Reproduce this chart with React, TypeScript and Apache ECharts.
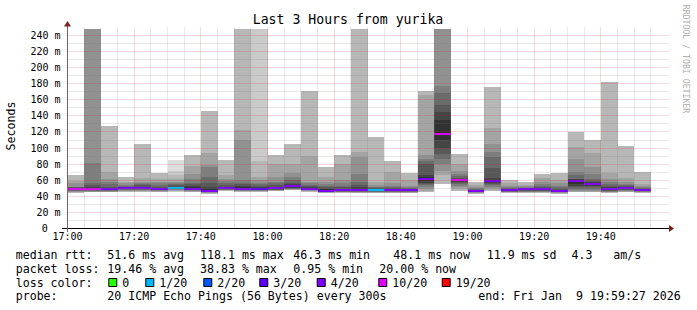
import React, { useEffect, useRef } from "react";
import * as echarts from "echarts";

// 5-minute intervals (start times)
const times = [
  "17:00", "17:05", "17:10", "17:15", "17:20", "17:25", "17:30", "17:35", "17:40", "17:45",
  "17:50", "17:55", "18:00", "18:05", "18:10", "18:15", "18:20", "18:25", "18:30", "18:35",
  "18:40", "18:45", "18:50", "18:55", "19:00", "19:05", "19:10", "19:15", "19:20", "19:25",
  "19:30", "19:35", "19:40", "19:45", "19:50",
];

// median rtt (ms) per interval
const medians = [
  48.5, 48.5, 48.5, 50, 50, 48.7, 50.5, 49.5, 47, 50,
  49.5, 49, 50, 52.6, 49.5, 47, 47.3, 47.5, 48, 47.7,
  47.5, 61.4, 118, 60.5, 46.8, 58.5, 47.5, 48.5, 48.5, 46.5,
  58.8, 55.6, 49.5, 50.3, 48.3,
];

// lost pings (of 20) per interval
const losses = [
  10, 10, 4, 4, 4, 4, 1, 4, 4, 4,
  4, 3, 4, 4, 4, 4, 4, 4, 1, 4,
  4, 4, 10, 10, 4, 4, 4, 4, 4, 4,
  4, 4, 4, 4, 4,
];

// sorted ping rtts (ms) per interval, lost pings as null
const n = null;
const pings: (number | null)[][] = [
  [n, n, 44.5, 45.5, 46, 46.5, 47, 47.5, 48, 48.3, 49, 50, 51, 51.5, 52, 56, 59, 66, n, n],
  [n, n, n, n, 46, 46.5, 47, 47.5, 48, 48.3, 49.5, 51, 54, 56, 81, 260, n, n, n, n],
  [n, n, 45, 45.5, 46, 46.5, 47, 47.3, 47.6, 48, 49, 50, 52, 55, 58, 62, 70, 127, n, n],
  [n, n, 46, 46.5, 47, 47.5, 48, 48.5, 49, 49.5, 50.5, 51, 52, 53, 54, 56, 58, 63.5, n, n],
  [n, n, 46, 46.5, 47, 47.5, 48, 48.5, 49, 49.5, 51, 52, 54, 55.5, 56.5, 58, 63, 104.5, n, n],
  [n, n, 45.5, 46, 46.5, 47, 47.3, 47.6, 48, 48.3, 49.5, 50.5, 52, 54, 56, 58, 62, 69, n, n],
  [45.5, 46, 46.5, 47, 47.5, 48, 48.5, 49, 49.5, 50, 51, 52, 53.5, 55, 56, 58, 62, 67, 72, 85],
  [n, n, 45.5, 46, 46.5, 47, 47.5, 48, 48.5, 49, 51, 52.5, 55, 57, 62, 68, 78, 91, n, n],
  [n, n, 43.5, 44, 44.5, 45, 45.5, 46, 46.3, 46.6, 49, 52, 56, 64, 76, 79, 93.5, 146.5, n, n],
  [n, n, 47, 47.3, 47.6, 48, 48.3, 48.6, 49, 49.5, 51, 52, 54, 56, 59, 62, 67, 85, n, n],
  [n, n, 46, 46.3, 46.6, 47, 47.3, 47.6, 48, 48.5, 51, 52.5, 55, 57, 60, 109.5, 122, 260, n, n],
  [n, 45.5, 46, 46.3, 46.6, 47, 47.3, 47.6, 48, 48.5, 50, 51.5, 53, 55, 57, 60, 64, 84, 260, n],
  [n, n, 46.5, 47, 47.3, 47.6, 48, 48.3, 48.6, 49, 51, 52, 54, 56, 58, 64, 80, 92, n, n],
  [n, n, 47.5, 48, 48.5, 49, 49.5, 50, 50.5, 51, 54, 55, 57, 60, 64, 69, 80, 105.3, n, n],
  [n, n, 46, 46.5, 47, 47.3, 47.6, 48, 48.3, 48.7, 50.5, 51.5, 53, 54.5, 56, 58, 90, 171.6, n, n],
  [n, n, 44, 44.5, 45, 45.3, 45.6, 46, 46.3, 46.6, 48.5, 49.5, 51, 53, 55, 58, 63.5, 76.3, n, n],
  [n, n, 44.5, 45, 45.3, 45.6, 46, 46.3, 46.6, 47, 48.5, 49.5, 51, 53, 56, 60, 80.5, 92, n, n],
  [n, n, 44, 44.5, 45, 45.5, 46, 46.3, 46.6, 47, 49, 51, 54, 57.6, 68, 88.6, 95, 260, n, n],
  [n, n, 44, 44.5, 45, 45.5, 46, 46.5, 47, 47.5, 48.7, 49.3, 50, 51, 52, 54, 57.6, 113.6, n, n],
  [n, n, 44, 44.5, 45, 45.5, 46, 46.3, 46.6, 47, 48.3, 49, 50, 51.4, 53, 56, 70, 83.5, n, n],
  [n, n, 44, 44.5, 45, 45.4, 45.8, 46.2, 46.6, 47, 48.2, 48.8, 49.5, 50.3, 51.4, 53, 60, 69, n, n],
  [n, n, 45, 47, 49.3, 52, 54, 55.6, 57, 59, 64, 66, 80, 84, 86, 91, 165.4, 171.6, n, n],
  [n, n, 55.6, 66, 72, 80, 86, 93, 100, 110, 135, 145, 153, 168, 177, 260, 260, 260, n, n],
  [n, n, 47, 49, 51.4, 53, 55, 56.5, 58, 59.5, 61.5, 62, 63, 65, 68, 72, 80.4, 92.9, n, n],
  [n, n, 43.5, 44, 44.4, 44.8, 45.2, 45.6, 46, 46.4, 47.3, 47.8, 48.3, 49, 50, 51.4, 54, 57.6, n, n],
  [n, n, 46.5, 48, 50, 52, 53.5, 55, 56.5, 57.5, 60, 63, 75, 89, 95, 105, 125, 176, n, n],
  [n, n, 44.5, 45, 45.3, 45.6, 46, 46.3, 46.7, 47, 48, 48.5, 49, 49.8, 51, 53, 57, 60.5, n, n],
  [n, n, 44.5, 45, 45.5, 46, 46.5, 47, 47.5, 48, 49, 49.5, 50, 50.5, 51.5, 52.5, 54.5, 57.6, n, n],
  [n, n, 44.5, 45, 45.5, 46, 46.5, 47, 47.5, 48, 49.2, 50, 51.5, 53, 55, 58, 63, 67.2, n, n],
  [n, n, 43.5, 44, 44.4, 44.8, 45.2, 45.6, 46, 46.2, 47.2, 48, 49.5, 51, 53, 56, 60, 68.8, n, n],
  [n, n, 45, 46, 47, 48, 49.3, 51, 53, 55, 60, 61, 62, 66, 70, 86, 101, 120.6, n, n],
  [n, n, 45, 46, 47, 48, 49, 51, 52.5, 54, 57, 57.5, 59, 62, 68, 76.3, 93.7, 109.5, n, n],
  [n, n, 44.5, 45, 45.5, 46, 46.5, 47, 48, 48.8, 50.5, 51.5, 53, 55.6, 57.6, 62, 69.3, 181.6, n, n],
  [n, n, 45.5, 46, 46.5, 47, 47.5, 48, 48.8, 49.5, 51, 51.5, 52.5, 54, 55.6, 58, 62.5, 103.2, n, n],
  [n, n, 44.5, 45, 45.5, 46, 46.5, 47, 47.5, 48, 48.7, 49, 49.5, 50, 51, 52.5, 54.8, 69.7, n, n],
];

// loss colour legend
const lossThresholds = [0, 1, 2, 3, 4, 10, 19];
const lossLabels = ["0", "1/20", "2/20", "3/20", "4/20", "10/20", "19/20"];
const lossColors = ["#26ff00", "#00b8ff", "#0059ff", "#5e00ff", "#7e00ff", "#dd00ff", "#ff0000"];

// axis ticks
const xTickLabels = ["17:00", "17:20", "17:40", "18:00", "18:20", "18:40", "19:00", "19:20", "19:40"];
const xMajorGrid = [20, 40, 60, 80, 100, 120, 140, 160];
const xMinorGrid = [5, 10, 15, 25, 30, 35, 45, 50, 55, 65, 70, 75, 85, 90, 95, 105, 110, 115, 125, 130, 135, 145, 150, 155, 165, 170, 175];
const yMajorGrid = [20, 40, 60, 80, 100, 120, 140, 160, 180, 200, 220, 240];
const yMinorGrid = [10, 30, 50, 70, 90, 110, 130, 150, 170, 190, 210, 230];

// legend texts
const legendRows = [
  ["median rtt:", "51.6 ms avg", "118.1 ms max", "46.3 ms min", "48.1 ms now", "11.9 ms sd", "4.3", "am/s"],
  ["packet loss:", "19.46 % avg", "38.83 % max", "0.95 % min", "20.00 % now"],
  ["loss color:"],
  ["probe:", "20 ICMP Echo Pings (56 Bytes) every 300s", "end: Fri Jan\u00a0\u00a09 19:59:27 2026"],
];

const Y_MAX = 248.7;
const X_MAX = 180;
const BIN = 5;
const MONO = "DejaVu Sans Mono";

function toMinutes(t: string) {
  const [h, m] = t.split(":").map(Number);
  return (h - 17) * 60 + m;
}

function colorForLoss(l: number) {
  let c = lossColors[0];
  lossThresholds.forEach((th, i) => {
    if (l >= th) c = lossColors[i];
  });
  return c;
}

export default function App() {
  const ref = useRef<HTMLDivElement>(null);
  useEffect(() => {
    if (!ref.current) return;
    const chart = echarts.init(ref.current, null, { renderer: "svg" });
    const starts = times.map(toMinutes);

    const smokeRender = (params: any, api: any) => {
      const i = api.value(0);
      const t0 = starts[i];
      const x0 = Math.round(api.coord([t0, 0])[0]);
      const x1 = Math.round(api.coord([t0 + BIN, 0])[0]);
      const p = pings[i];
      const children: any[] = [];
      for (let k = 1; k <= 10; k++) {
        const lo = p[k - 1];
        const hi = p[20 - k];
        if (lo == null || hi == null) continue;
        const yLo = Math.round(api.coord([t0, Math.min(lo, Y_MAX)])[1]);
        const yHi = Math.round(api.coord([t0, Math.min(hi, Y_MAX)])[1]);
        const g = Math.floor((190 / 10) * (10 - k)) + 50;
        children.push({
          type: "rect",
          shape: { x: x0, y: yHi, width: x1 - x0, height: Math.max(yLo - yHi, 0) },
          style: { fill: `rgb(${g},${g},${g})` },
        });
      }
      const ym = Math.round(api.coord([t0, medians[i]])[1]);
      children.push({
        type: "rect",
        shape: { x: x0, y: ym - 1, width: x1 - x0, height: 2 },
        style: { fill: colorForLoss(losses[i]) },
      });
      return { type: "group", children };
    };

    const gridRender = (params: any, api: any) => {
      const children: any[] = [];
      const yTop = api.coord([0, Y_MAX])[1] - 2;
      const yBot = api.coord([0, 0])[1];
      const xL = api.coord([0, 0])[0];
      const xR = api.coord([X_MAX, 0])[0] + 1.5;
      const minor = "rgba(120,120,120,0.33)";
      const major = "rgba(200,30,30,0.32)";
      const vline = (t: number, color: string) => {
        const x = Math.floor(api.coord([t, 0])[0]) + 0.5;
        children.push({
          type: "line",
          shape: { x1: x, y1: yBot, x2: x, y2: yTop },
          style: { stroke: color, lineWidth: 1, lineDash: [1, 1] },
        });
      };
      const hline = (v: number, color: string) => {
        const y = Math.floor(api.coord([0, v])[1]) + 0.5;
        children.push({
          type: "line",
          shape: { x1: xL, y1: y, x2: xR, y2: y },
          style: { stroke: color, lineWidth: 1, lineDash: [1, 1] },
        });
      };
      yMinorGrid.forEach((v) => hline(v, minor));
      xMinorGrid.forEach((t) => vline(t, minor));
      yMajorGrid.forEach((v) => hline(v, major));
      xMajorGrid.forEach((t) => vline(t, major));
      return { type: "group", children };
    };

    const textStyle = (text: string, size: number, fill: string, align: string, vAlign: string) => ({
      text,
      font: `${size}px '${MONO}'`,
      fill,
      textAlign: align,
      textVerticalAlign: vAlign,
      align,
      verticalAlign: vAlign,
    });

    const graphics: any[] = [];
    graphics.push({ type: "text", x: 348, y: 19, style: textStyle("Last 3 Hours from yurika", 13.2, "#000", "center", "middle") });
    graphics.push({ type: "text", x: 11, y: 126, rotation: Math.PI / 2, style: textStyle("Seconds", 11.6, "#000", "center", "middle") });
    graphics.push({ type: "text", x: 686, y: 59, rotation: -Math.PI / 2, style: textStyle("RRDTOOL / TOBI OETIKER", 8.2, "#b0b0b0", "center", "middle") });
    // zero label of the value axis, drawn left of the axis like rrdtool's "0"
    graphics.push({ type: "text", x: 47.8, y: 228.5, style: textStyle("0", 10, "#000", "right", "middle") });
    // axes
    graphics.push({ type: "line", shape: { x1: 62, y1: 228.5, x2: 669, y2: 228.5 }, style: { stroke: "#000", lineWidth: 1 } });
    graphics.push({ type: "line", shape: { x1: 67.5, y1: 232, x2: 67.5, y2: 26 }, style: { stroke: "#8b5a5a", lineWidth: 1 } });
    graphics.push({ type: "polygon", shape: { points: [[64, 26.5], [71, 26.5], [67.5, 21]] }, style: { fill: "#7f1f1f" } });
    graphics.push({ type: "polygon", shape: { points: [[669, 225], [669, 232], [674, 228.5]] }, style: { fill: "#7f1f1f" } });

    // legend
    const rowY = [255, 268.5, 282.5, 296];
    const colX: number[][] = [
      [15.7, 107.3, 200, 293.3, 393.3, 486.7, 571.5, 613.3],
      [15.7, 107.3, 200, 293.3, 379.3],
      [15.7],
      [15.7, 107.3, 478.3],
    ];
    legendRows.forEach((row, r) => {
      row.forEach((txt, c) => {
        graphics.push({ type: "text", x: colX[r][c], y: rowY[r], style: textStyle(txt, 11.6, "#000", "left", "middle") });
      });
    });
    const boxX = [108.3, 145.3, 203.3, 259.3, 316.7, 378.3, 441.7];
    lossLabels.forEach((lab, i) => {
      graphics.push({
        type: "rect",
        shape: { x: boxX[i] + 0.5, y: 278.5, width: 8, height: 8 },
        style: { fill: lossColors[i], stroke: "#000", lineWidth: 1 },
      });
      graphics.push({ type: "text", x: boxX[i] + 14, y: rowY[2], style: textStyle(lab, 11.6, "#000", "left", "middle") });
    });

    chart.setOption({
      animation: false,
      backgroundColor: "#ffffff",
      grid: { left: 67.5, top: 28.5, width: 600, height: 200 },
      xAxis: {
        type: "value",
        min: 0,
        max: X_MAX,
        interval: 20,
        axisLine: { show: false },
        axisTick: { show: false },
        splitLine: { show: false },
        axisLabel: {
          margin: 3,
          fontFamily: MONO,
          fontSize: 10,
          color: "#000",
          showMaxLabel: false,
          formatter: (v: number) => (v % 20 === 0 && v / 20 < xTickLabels.length ? xTickLabels[v / 20] : ""),
        },
      },
      yAxis: {
        type: "value",
        min: 0,
        max: Y_MAX,
        interval: 20,
        axisLine: { show: false },
        axisTick: { show: false },
        splitLine: { show: false },
        axisLabel: {
          margin: 7,
          fontFamily: MONO,
          fontSize: 10,
          color: "#000",
          showMaxLabel: false,
          formatter: (v: number) => (v > 0 && v % 20 === 0 ? `${v} m` : ""),
        },
      },
      graphic: graphics,
      series: [
        {
          type: "custom",
          renderItem: smokeRender,
          data: times.map((_, i) => [i]),
          z: 2,
        },
        {
          type: "custom",
          renderItem: gridRender,
          data: [[0]],
          z: 3,
          silent: true,
        },
      ],
    });
    return () => chart.dispose();
  }, []);
  return <div ref={ref} style={{ position: "absolute", left: 0, top: 0, width: 697, height: 310 }} />;
}
